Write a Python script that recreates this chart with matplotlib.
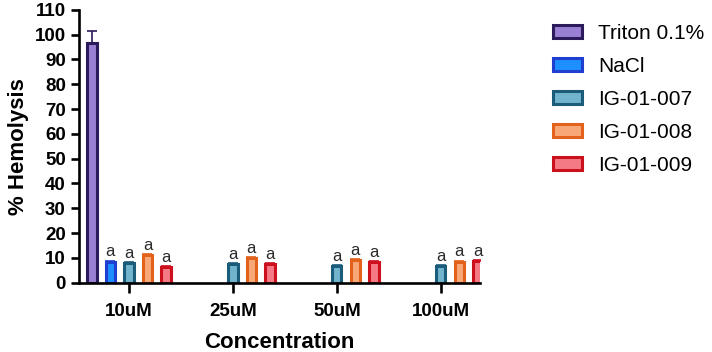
import numpy as np
import matplotlib
matplotlib.use("Agg")
import matplotlib.pyplot as plt

plt.rcParams['font.family'] = ['Liberation Sans', 'DejaVu Sans']

concentrations = ['10uM', '25uM', '50uM', '100uM']
series_names = ['Triton 0.1%', 'NaCl', 'IG-01-007', 'IG-01-008', 'IG-01-009']
triton = [96.8, np.nan, np.nan, np.nan]
nacl = [8.5, np.nan, np.nan, np.nan]
ig007 = [7.8, 7.4, 6.7, 6.7]
ig008 = [11.2, 9.8, 9.1, 8.5]
ig009 = [6.2, 7.5, 8.3, 8.7]
triton_err = [4.8, 0, 0, 0]
small_err = [0.4, 0.4, 0.4, 0.4]
letters = ['', 'a', 'a', 'a', 'a']

edge_colors = ['#2b1a5c', '#1f3fd0', '#1a5c7a', '#e2621c', '#cc101e']
face_colors = ['#9a80d2', '#1e8fff', '#72b4cc', '#f8a878', '#f47a86']

values = [triton, nacl, ig007, ig008, ig009]
errs = [triton_err, small_err, small_err, small_err, small_err]

fig = plt.figure(figsize=(7.12, 3.52), dpi=100)
ax = fig.add_axes([0.111, 0.197, 0.563, 0.775])

x = np.arange(len(concentrations))
step = 0.178
width = 0.088
for i, (vals, err) in enumerate(zip(values, errs)):
    pos = x + (i - 2) * step
    vals = np.array(vals, dtype=float)
    ax.bar(pos, vals, width=width, color=face_colors[i], edgecolor=edge_colors[i],
           linewidth=2.2, label=series_names[i], zorder=2)
    ok = ~np.isnan(vals)
    e = np.array(err)[ok]
    ax.errorbar(pos[ok], vals[ok], yerr=[np.zeros_like(e), e], fmt='none',
                ecolor=edge_colors[i], elinewidth=1.2, capsize=3.5, capthick=1.2, zorder=1)
    if letters[i]:
        for p, v, ee in zip(pos[ok], vals[ok], e):
            ax.text(p, v + ee + 0.5, letters[i], ha='center', va='bottom',
                    fontsize=12, color='#2a2a2a')

ax.set_xlim(-0.48, 3.375)
ax.set_ylim(0, 110)
ax.set_yticks(np.arange(0, 111, 10))
ax.set_xticks(x)
ax.set_xticklabels(concentrations)
for s in ['top', 'right']:
    ax.spines[s].set_visible(False)
for s in ['left', 'bottom']:
    ax.spines[s].set_linewidth(1.9)
ax.tick_params(axis='both', width=1.9, length=6, labelsize=13.5)
ax.tick_params(axis='x', length=7, pad=8)
for lab in ax.get_xticklabels() + ax.get_yticklabels():
    lab.set_fontweight('bold')

ax.set_xlabel('Concentration', fontsize=16, fontweight='bold', labelpad=8)
ax.set_ylabel('% Hemolysis', fontsize=16, fontweight='bold', labelpad=4)

fig.legend(loc='upper left', bbox_to_anchor=(543 / 712, 0.962), frameon=False,
           fontsize=15, borderpad=0, handlelength=1.35, handleheight=0.55,
           handletextpad=0.8, labelspacing=0.67)

fig.savefig('out.png', dpi=100)
